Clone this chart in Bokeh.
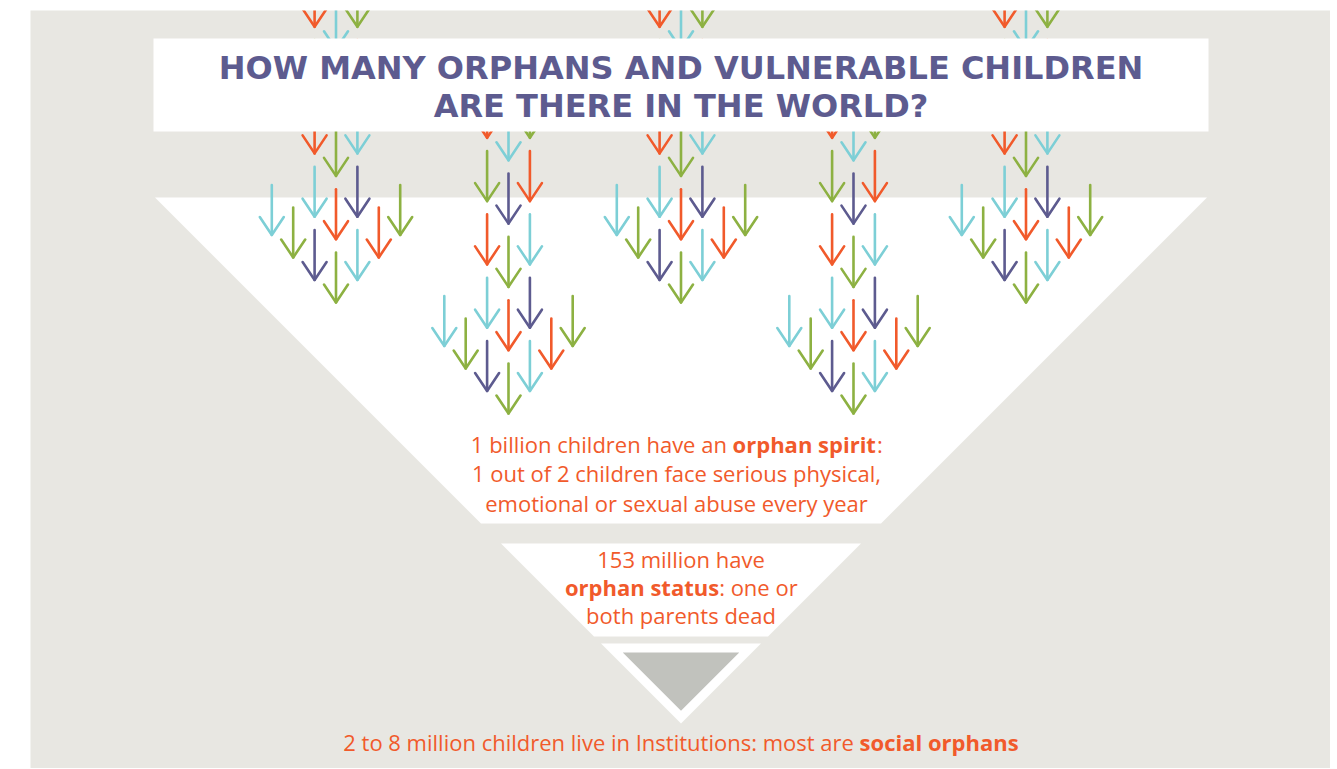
from bokeh.plotting import figure
from bokeh.models import Range1d, ColumnDataSource
from bokeh.embed import file_html
from bokeh.resources import INLINE
from bokeh.core.properties import value

# ---------------- data ----------------
TITLE_LINES = ["HOW MANY ORPHANS AND VULNERABLE CHILDREN", "ARE THERE IN THE WORLD?"]

TIER_COUNTS = ["1 billion", "153 million", "2 to 8 million"]
TIER_NAMES = ["orphan spirit", "orphan status", "social orphans"]

# each text line = list of (segment, is_bold)
TIER1_LINES = [
    [("1 billion children have an ", False), ("orphan spirit", True), (":", False)],
    [("1 out of 2 children face serious physical,", False)],
    [("emotional or sexual abuse every year", False)],
]
TIER2_LINES = [
    [("153 million have", False)],
    [("orphan status", True), (": one or", False)],
    [("both parents dead", False)],
]
TIER3_LINES = [
    [("2 to 8 million children live in Institutions: most are ", False), ("social orphans", True)],
]

# arrow clusters (falling "children")
CLUSTER_INDEX = [-2, -1, 0, 1, 2]
CLUSTER_LOWERED = [False, True, False, True, False]
# shaft rows from the bottom up, colours for columns -1, 0, +1
SHAFT_COLORS = [
    ["purple", "green", "cyan"],
    ["cyan", "orange", "purple"],
    ["orange", "green", "cyan"],
    ["green", "purple", "orange"],
    ["orange", "cyan", "green"],
]
WING_COLUMNS = [-3, -2, 2, 3]
WING_COLORS = ["cyan", "green", "orange", "green"]

# ---------------- style / layout ----------------
PALETTE = {"orange": "#F15A2B", "cyan": "#7DCFD6", "green": "#8DB142", "purple": "#5D5B8F"}
BG_GRAY = "#E8E7E2"
INNER_GRAY = "#C1C2BD"
TEXT_ORANGE = "#F15A2B"
TITLE_PURPLE = "#5D5B8F"

CX = 680.5
APEX_Y = 723.0
BANDS = [(197.0, 523.0), (543.0, 636.0), (643.0, APEX_Y)]
INSET = 9.0
TITLE_BOX = (153.0, 1208.0, 38.0, 131.0)

CLUSTER_DX = 172.5
COL_DX = 21.4
DIAG_DY = 22.5
ROW_DY = 63.3
BASE_TIP = 302.0
LOWER_BY = 111.0
SHAFT_LEN = 50.0
HEAD_DX = 12.0
HEAD_DY = 18.0

FONT = "Open Sans"
FONT_SIZE = 22.0

# approximate Open Sans advance widths (units / 2048) for centring mixed-weight lines
REG_W = {" ": 532, ",": 502, ":": 545, "I": 627, "a": 1139, "b": 1255, "c": 975, "d": 1255,
         "e": 1149, "f": 694, "h": 1257, "i": 518, "l": 518, "m": 1905, "n": 1257, "o": 1237,
         "p": 1255, "r": 836, "s": 977, "t": 723, "u": 1257, "v": 1075, "x": 1063, "y": 1075}
BOLD_W = {" ": 532, ":": 586, "a": 1208, "c": 1040, "h": 1329, "i": 608, "l": 608, "n": 1329,
          "o": 1260, "p": 1300, "r": 911, "s": 1016, "t": 838, "u": 1329}
BOLD_STRETCH = 1.022


def seg_width(txt, bold):
    table = BOLD_W if bold else REG_W
    tot = 0
    for ch in txt:
        if ch.isdigit():
            tot += 1171
        else:
            tot += table.get(ch, 1150)
    w = tot / 2048.0 * FONT_SIZE
    return w * BOLD_STRETCH if bold else w


p = figure(width=1330, height=768,
           x_range=Range1d(30, 1330), y_range=Range1d(768, 10),
           output_backend="svg", toolbar_location=None,
           x_axis_location=None, y_axis_location=None,
           min_border_left=30, min_border_right=0, min_border_top=10, min_border_bottom=0,
           background_fill_color=BG_GRAY, border_fill_color="white",
           outline_line_color=None)
p.grid.visible = False

# ---- funnel tiers ----
txs, tys = [], []
for top, bot in BANDS:
    ht = APEX_Y - top
    hb = APEX_Y - bot
    if hb <= 0:
        txs.append([CX - ht, CX + ht, CX])
        tys.append([top, top, APEX_Y])
    else:
        txs.append([CX - ht, CX + ht, CX + hb, CX - hb])
        tys.append([top, top, bot, bot])
p.patches(xs=txs, ys=tys, fill_color="white", line_color=None)

# inner gray triangle of the last tier
t3 = BANDS[2][0] + INSET
h3 = (APEX_Y - BANDS[2][0]) - INSET - INSET * 2 ** 0.5
p.patch(x=[CX - h3, CX + h3, CX], y=[t3, t3, t3 + h3], fill_color=INNER_GRAY, line_color=None)

# ---- arrows ----
sx0, sy0, sx1, sy1, scol = [], [], [], [], []
hxs, hys, hcol = [], [], []


def add_arrow(x, tip, color):
    sx0.append(x); sx1.append(x)
    sy0.append(tip - SHAFT_LEN); sy1.append(tip)
    scol.append(PALETTE[color])
    hxs.append([x - HEAD_DX, x, x + HEAD_DX])
    hys.append([tip - HEAD_DY, tip, tip - HEAD_DY])
    hcol.append(PALETTE[color])


for ci, low in zip(CLUSTER_INDEX, CLUSTER_LOWERED):
    cx = CX + ci * CLUSTER_DX
    base = BASE_TIP + (LOWER_BY if low else 0.0)
    for k, row in enumerate(SHAFT_COLORS):
        for c, col in zip([-1, 0, 1], row):
            add_arrow(cx + c * COL_DX, base - abs(c) * DIAG_DY - k * ROW_DY, col)
    for c, col in zip(WING_COLUMNS, WING_COLORS):
        add_arrow(cx + c * COL_DX, base - abs(c) * DIAG_DY, col)

p.segment(x0="x0", y0="y0", x1="x1", y1="y1", line_color="c", line_width=2.6, line_cap="round",
          source=ColumnDataSource(dict(x0=sx0, y0=sy0, x1=sx1, y1=sy1, c=scol)))
p.multi_line(xs="xs", ys="ys", line_color="c", line_width=2.6, line_cap="round", line_join="round",
             source=ColumnDataSource(dict(xs=hxs, ys=hys, c=hcol)))

# ---- title box ----
l, r, t, b = TITLE_BOX
p.quad(left=[l], right=[r], top=[t], bottom=[b], fill_color="white", line_color=None)
p.text(x=[CX, CX], y=[67, 105], text=TITLE_LINES, text_font=value("DejaVu Sans"),
       text_font_style="bold", text_font_size="32px", text_color=TITLE_PURPLE,
       text_align="center", text_baseline="alphabetic")


# ---- tier texts ----
def draw_lines(lines, center, first_base, step):
    for i, segs in enumerate(lines):
        y = first_base + i * step
        if len(segs) == 1:
            p.text(x=[center], y=[y], text=[segs[0][0]], text_font=value(FONT),
                   text_font_style="bold" if segs[0][1] else "normal",
                   text_font_size=f"{FONT_SIZE}px", text_color=TEXT_ORANGE,
                   text_align="center", text_baseline="alphabetic")
            continue
        widths = [seg_width(s, bd) for s, bd in segs]
        start = center - sum(widths) / 2.0
        anchor = start + widths[0]
        # first segment right-aligned to anchor, rest left-aligned after it
        p.text(x=[anchor], y=[y], text=[segs[0][0]], text_font=value(FONT),
               text_font_style="bold" if segs[0][1] else "normal",
               text_font_size=f"{FONT_SIZE}px", text_color=TEXT_ORANGE,
               text_align="right", text_baseline="alphabetic")
        xx = anchor
        for (s, bd), w in zip(segs[1:], widths[1:]):
            p.text(x=[xx], y=[y], text=[s], text_font=value(FONT),
                   text_font_style="bold" if bd else "normal",
                   text_font_size=f"{FONT_SIZE}px", text_color=TEXT_ORANGE,
                   text_align="left", text_baseline="alphabetic")
            xx += w


draw_lines(TIER1_LINES, 676.0, 443.0, 29.5)
draw_lines(TIER2_LINES, CX, 558.0, 28.0)
draw_lines(TIER3_LINES, CX, 741.0, 28.0)

open("out.html", "w").write(file_html(p, INLINE))
